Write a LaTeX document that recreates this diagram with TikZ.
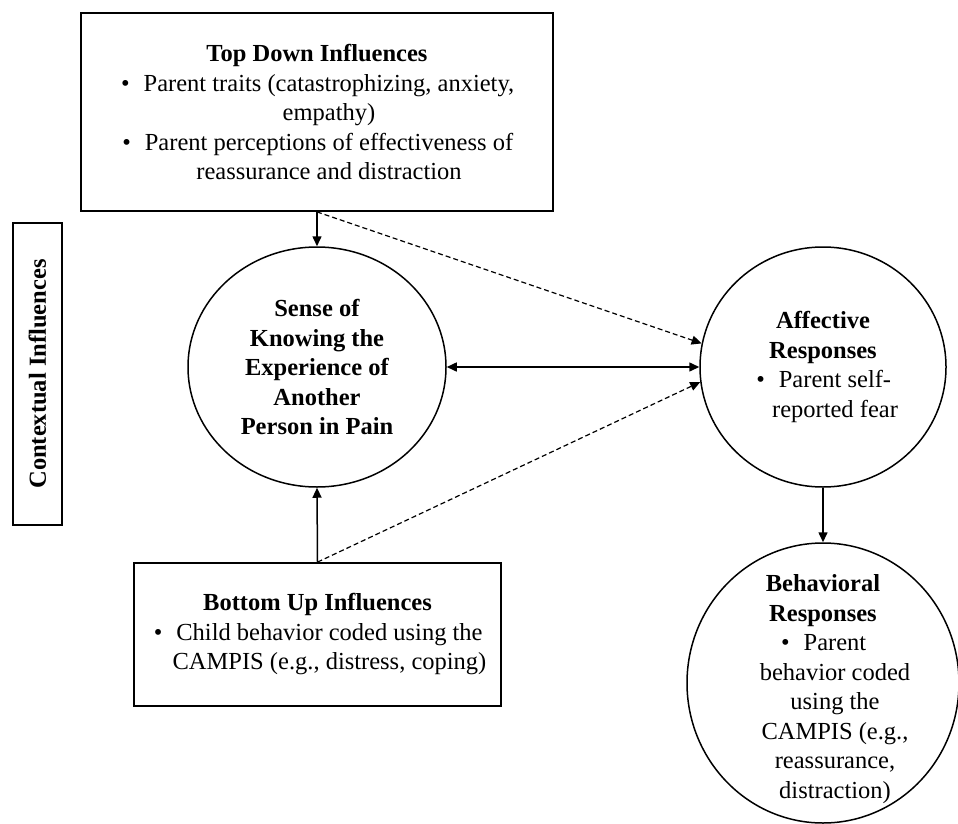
\documentclass[tikz,border=0pt]{standalone}
\usepackage{fontspec}
\setmainfont{Liberation Serif}
\usetikzlibrary{arrows.meta,shapes.geometric}

\newcommand{\pindent}{\hspace*{24pt}}
\newcommand{\pbullet}{\pindent\llap{\textbullet\hspace{14pt}}}

\begin{document}
\begin{tikzpicture}[x=1pt, y=-1pt,
        every node/.style={font=\fontsize{24.5}{29.5}\selectfont},
        box/.style={draw, line width=1.8pt},
        bubble/.style={draw, ellipse, line width=1.5pt},
        hint/.style={dash pattern=on 5pt off 3pt, line width=1.2pt},
        line width=1.5pt, >={Triangle[length=10pt,width=9pt]}]
    \useasboundingbox (0,0) rectangle (958,824);

    \node (TD) at (317,112) [box, minimum width=472, minimum height=198, align=center]
        {\textbf{Top Down Influences}\\
         \pbullet Parent traits (catastrophizing, anxiety,\\
         \pindent empathy)\\
         \pbullet Parent perceptions of effectiveness of\\
         \pindent reassurance and distraction};
    \node (CI) at (37.5,374) [box, minimum width=302, minimum height=49, rotate=90]
        {\textbf{Contextual Influences}};
    \node (BU) at (317.5,634.5) [box, minimum width=367, minimum height=143, align=center]
        {\textbf{Bottom Up Influences}\\
         \pbullet Child behavior coded using the\\
         \pindent CAMPIS (e.g., distress, coping)};

    \node (SK) at (317,367) [bubble, minimum width=258, minimum height=240] {};
    \node (SKt) at (SK) [align=center]
        {\textbf{Sense of}\\ \textbf{Knowing the}\\ \textbf{Experience of}\\
         \textbf{Another}\\ \textbf{Person in Pain}};

    \node (AR) at (823,367) [bubble, minimum width=246, minimum height=240] {};
    \node (ARt) at (AR) [align=center]
        {\textbf{Affective}\\ \textbf{Responses}\\
         \pbullet Parent self-\\ \pindent reported fear};

    \node (BR) at (823,683) [bubble, minimum width=272, minimum height=280] {};
    \node (BRt) at (823,689) [align=center]
        {\textbf{Behavioral}\\ \textbf{Responses}\\
         \pbullet Parent\\ \pindent behavior coded\\ \pindent using the\\
         \pindent CAMPIS (e.g.,\\ \pindent reassurance,\\ \pindent distraction)};

    \draw [->] (TD.south) to (SK.north);
    \draw [->, hint] (TD.south) to (AR.169);
    \draw [<->] (SK.east) to (AR.west);
    \draw [->, hint] (BU.north) to (AR.187);
    \draw [->] (BU.north) to (SK.south);
    \draw [->] (AR.south) to (BR.north);
\end{tikzpicture}
\end{document}
